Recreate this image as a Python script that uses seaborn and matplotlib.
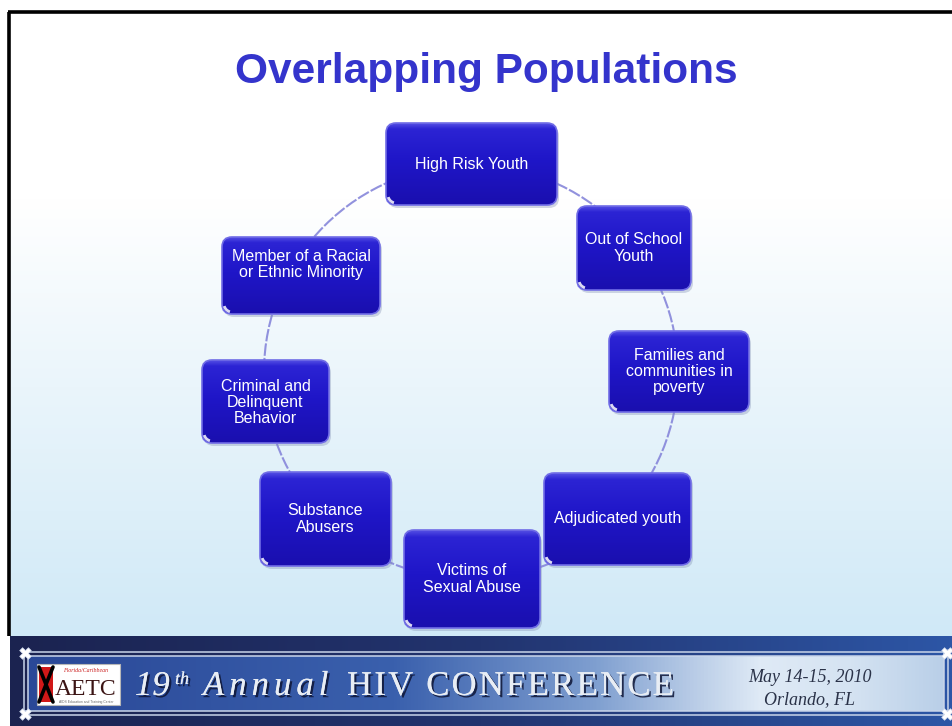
import numpy as np
import matplotlib.pyplot as plt
import matplotlib.patheffects as pe
import seaborn as sns
from matplotlib.patches import FancyBboxPatch, Rectangle, Circle, Arc
from matplotlib.colors import LinearSegmentedColormap

# ---------------------------------------------------
# Slide content
# ---------------------------------------------------
TITLE = "Overlapping Populations"

populations = [
    "High Risk Youth",
    "Out of School\nYouth",
    "Families and\ncommunities in\npoverty",
    "Adjudicated youth",
    "Victims of\nSexual Abuse",
    "Substance\nAbusers",
    "Criminal and\nDelinquent\nBehavior",
    "Member of a Racial\nor Ethnic Minority",
]

footer_num = "19"
footer_sup = "th"
footer_word = "Annual"
footer_name = "HIV CONFERENCE"
date_lines = ["May 14-15, 2010", "Orlando, FL"]
logo_text = "AETC"

# ---------------------------------------------------
# Layout (slide pixels, y grows downward)
# ---------------------------------------------------
W, H = 952, 726
box_left = [386, 577, 609, 544, 404, 260, 202, 222]
box_top = [123, 206, 331, 473, 530, 472, 360, 237]
box_right = [557, 691, 749, 691, 540, 391, 329, 380]
box_bottom = [205, 290, 412, 565, 628, 566, 443, 314]
text_shift = [0, 0, 0, 0, 0, 0, 1, -11]

sns.set_theme(style="white")
plt.rcParams["font.family"] = ["Liberation Sans", "DejaVu Sans"]

fig = plt.figure(figsize=(9.52, 7.26), dpi=100, facecolor="white")
ax = fig.add_axes([0, 0, 1, 1])
ax.axis("off")

# -----------------------------
# Background
# -----------------------------
vgrad = np.linspace(0, 1, 256).reshape(-1, 1)
hgrad = np.linspace(0, 1, 512).reshape(1, -1)

bg_cmap = LinearSegmentedColormap.from_list(
    "bg", [(0, "#ffffff"), (0.3, "#ffffff"), (0.6, "#eaf5fb"), (1, "#d0e9f7")])
ax.imshow(vgrad, extent=[10, W, 636, 13], cmap=bg_cmap, aspect="auto", zorder=0)

# slide frame
ax.plot([9, 9], [12, 636], color="black", lw=2.6, zorder=1, solid_capstyle="butt")
ax.plot([8, W], [12, 12], color="black", lw=2.6, zorder=1, solid_capstyle="butt")

# title
ax.text(486, 72, TITLE, ha="center", va="center", fontsize=30.5,
        fontweight="bold", color="#3434cc", zorder=6)

# -----------------------------
# Ring + boxes
# -----------------------------
ax.add_patch(Circle((471, 372), 207, fill=False, ec="#8686da", lw=1.5,
                    ls=(0, (6, 1)), alpha=0.9, zorder=1))

box_cmap = LinearSegmentedColormap.from_list(
    "box", [(0, "#5550e4"), (0.07, "#2c24d4"), (0.45, "#1f16c8"), (1, "#1a0fae")])

for i, label in enumerate(populations):
    x0, y0, x1, y1 = box_left[i], box_top[i], box_right[i], box_bottom[i]
    w, h = x1 - x0, y1 - y0
    style = "round,pad=0,rounding_size=10"
    ax.add_patch(FancyBboxPatch((x0 + 2, y0 + 3), w, h, boxstyle=style,
                                fc="#7d8bb0", ec="none", alpha=0.35, zorder=2))
    frame = FancyBboxPatch((x0, y0), w, h, boxstyle=style, fc="none",
                           ec="#706ce6", lw=1.2, zorder=4)
    ax.add_patch(frame)
    im = ax.imshow(vgrad, extent=[x0, x1, y1, y0], cmap=box_cmap,
                   aspect="auto", zorder=3)
    im.set_clip_path(frame)
    ax.add_patch(Arc((x0 + 10, y1 - 10), 16, 16, theta1=105, theta2=165,
                     color="white", lw=2, alpha=0.85, zorder=5))
    ax.text((x0 + x1) / 2, (y0 + y1) / 2 + text_shift[i], label,
            ha="center", va="center", ma="center", fontsize=11.5,
            linespacing=1.12, color="white", zorder=6)

# -----------------------------
# Footer banner
# -----------------------------
navy_cmap = LinearSegmentedColormap.from_list(
    "navy", [(0, "#1b2350"), (0.5, "#22346f"), (1, "#2d56a6")])
ax.imshow(hgrad, extent=[10, W, H, 636], cmap=navy_cmap, aspect="auto", zorder=5)

panel_cmap = LinearSegmentedColormap.from_list(
    "panel", [(0, "#2a4897"), (0.4, "#3a60ad"), (0.62, "#7f9fd0"),
              (0.8, "#dfeaf6"), (0.9, "#d5e3f2"), (1, "#b9cfe8")])
ax.imshow(hgrad, extent=[28, 944, 711, 656], cmap=panel_cmap, aspect="auto", zorder=6)

line_kw = dict(color="#c9d5ea", lw=1.1, zorder=7)
for yy in [652, 656, 711, 715]:
    ax.plot([22, 949], [yy, yy], **line_kw)
for xx in [24, 28, 944, 948]:
    ax.plot([xx, xx], [650, 717], **line_kw)
ax.scatter([25, 25, 947, 947], [653, 714, 653, 714], marker="X", s=70,
           color="white", edgecolor="#c9d5ea", lw=0.5, zorder=8)

# logo
ax.add_patch(Rectangle((37, 664), 83, 41, fc="white", ec="#b8b8b8", lw=0.8, zorder=8))
ax.add_patch(Rectangle((39, 667), 14, 35, fc="#d01818", ec="none", zorder=9))
ax.plot([39, 53], [667, 702], color="black", lw=2.6, zorder=10)
ax.plot([53, 39], [667, 702], color="black", lw=2.6, zorder=10)
ax.text(86, 695, logo_text, ha="center", va="baseline", fontsize=17,
        family="Liberation Serif", color="#3b1414", zorder=10)
ax.text(86, 670, "Florida/Caribbean", ha="center", va="center", fontsize=4.2,
        style="italic", family="Liberation Serif", color="#cc2222", zorder=10)
ax.text(86, 702.5, "AIDS Education and Training Center", ha="center", va="center",
        fontsize=2.4, color="#666666", zorder=10)

# conference name, letter-spaced
shadow = [pe.withSimplePatchShadow(offset=(1.6, -1.6), shadow_rgbFace="#0e1535",
                                   alpha=0.85), pe.Normal()]
renderer = fig.canvas.get_renderer()
ax.set_xlim(0, W)
ax.set_ylim(H, 0)


def tracked(x, y, s, track, **kw):
    for ch in s:
        t = ax.text(x, y, ch, ha="left", va="baseline", **kw)
        if ch == " ":
            w = kw["fontsize"] * 0.25 * 100 / 72
        else:
            w = t.get_window_extent(renderer).width
        x += w + track


name_kw = dict(fontsize=25, family="Liberation Serif", color="#e8edf4",
               path_effects=shadow, zorder=10)
ax.text(135, 695, footer_num, ha="left", va="baseline", style="italic", **name_kw)
ax.text(175, 684, footer_sup, ha="left", va="baseline", style="italic",
        **{**name_kw, "fontsize": 13})
tracked(203, 695, footer_word, 5, style="italic", **name_kw)
tracked(347, 695, footer_name, 2.2, **name_kw)

for j, line in enumerate(date_lines):
    ax.text(810, 677 + 23 * j, line, ha="center", va="center", fontsize=13,
            style="italic", family="Liberation Serif", color="#2a3248", zorder=10)

ax.set_xlim(0, W)
ax.set_ylim(H, 0)
fig.savefig("out.png", dpi=100, facecolor="white")
plt.close(fig)
